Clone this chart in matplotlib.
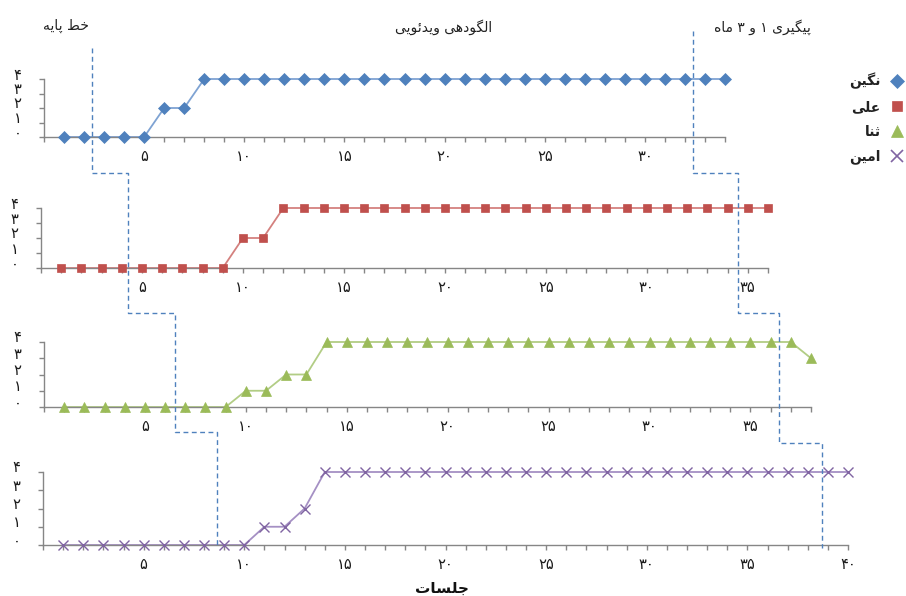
import matplotlib
matplotlib.use("Agg")
import matplotlib.pyplot as plt
from matplotlib.lines import Line2D
from matplotlib.transforms import ScaledTranslation

plt.rcParams['font.family'] = ['DejaVu Sans']

# ---------------- data ----------------
names = ["نگین", "علی", "ثنا", "امین"]
negin = [0, 0, 0, 0, 0, 2, 2, 4, 4, 4, 4, 4, 4, 4, 4, 4, 4, 4, 4, 4,
         4, 4, 4, 4, 4, 4, 4, 4, 4, 4, 4, 4, 4, 4]
ali = [0, 0, 0, 0, 0, 0, 0, 0, 0, 2, 2, 4, 4, 4, 4, 4, 4, 4, 4, 4,
       4, 4, 4, 4, 4, 4, 4, 4, 4, 4, 4, 4, 4, 4, 4, 4]
sana = [0, 0, 0, 0, 0, 0, 0, 0, 0, 1, 1, 2, 2, 4, 4, 4, 4, 4, 4, 4,
        4, 4, 4, 4, 4, 4, 4, 4, 4, 4, 4, 4, 4, 4, 4, 4, 4, 3]
amin = [0, 0, 0, 0, 0, 0, 0, 0, 0, 0, 1, 1, 2, 4, 4, 4, 4, 4, 4, 4,
        4, 4, 4, 4, 4, 4, 4, 4, 4, 4, 4, 4, 4, 4, 4, 4, 4, 4, 4, 4]
series = [negin, ali, sana, amin]
y_ticks = [0, 1, 2, 3, 4]
phase_titles = ["خط پایه", "الگودهی ویدئویی", "پیگیری ۱ و ۳ ماه"]
x_title = "جلسات"
# phase-change positions (in sessions) for each panel
phase1_x = [2.40, 4.31, 6.49, 8.65]
phase2_x = [32.4, 34.52, 36.42, 38.71]

# ---------------- simple Persian shaping ----------------
FORMS = {
    'ا': ('\uFE8D', '\uFE8E'),
    'ب': ('\uFE8F', '\uFE90', '\uFE91', '\uFE92'),
    'پ': ('\uFB56', '\uFB57', '\uFB58', '\uFB59'),
    'ت': ('\uFE95', '\uFE96', '\uFE97', '\uFE98'),
    'ث': ('\uFE99', '\uFE9A', '\uFE9B', '\uFE9C'),
    'ج': ('\uFE9D', '\uFE9E', '\uFE9F', '\uFEA0'),
    'خ': ('\uFEA5', '\uFEA6', '\uFEA7', '\uFEA8'),
    'د': ('\uFEA9', '\uFEAA'),
    'ر': ('\uFEAD', '\uFEAE'),
    'س': ('\uFEB1', '\uFEB2', '\uFEB3', '\uFEB4'),
    'ط': ('\uFEC1', '\uFEC2', '\uFEC3', '\uFEC4'),
    'ع': ('\uFEC9', '\uFECA', '\uFECB', '\uFECC'),
    'گ': ('\uFB92', '\uFB93', '\uFB94', '\uFB95'),
    'ل': ('\uFEDD', '\uFEDE', '\uFEDF', '\uFEE0'),
    'م': ('\uFEE1', '\uFEE2', '\uFEE3', '\uFEE4'),
    'ن': ('\uFEE5', '\uFEE6', '\uFEE7', '\uFEE8'),
    'ه': ('\uFEE9', '\uFEEA', '\uFEEB', '\uFEEC'),
    'و': ('\uFEED', '\uFEEE'),
    'ئ': ('\uFE89', '\uFE8A', '\uFE8B', '\uFE8C'),
    'ی': ('\uFBFC', '\uFBFD', '\uFBFE', '\uFBFF'),
}


def shape(text):
    chars = list(text)
    out = []
    for i, c in enumerate(chars):
        if c not in FORMS:
            out.append(c)
            continue
        f = FORMS[c]
        prev = chars[i - 1] if i > 0 else None
        nxt = chars[i + 1] if i + 1 < len(chars) else None
        jp = prev in FORMS and len(FORMS[prev]) == 4
        jn = len(f) == 4 and nxt in FORMS
        if jp and jn:
            g = f[3]
        elif jp:
            g = f[1]
        elif jn:
            g = f[2]
        else:
            g = f[0]
        out.append(g)
    return ''.join(reversed(out))


PD = '۰۱۲۳۴۵۶۷۸۹'


def fa(n):
    return ''.join(PD[int(d)] for d in str(n))


# ---------------- style ----------------
mk_colors = ['#4F81BD', '#C0504D', '#9BBB59', '#8064A2']
ln_colors = ['#7FA3D3', '#D4817F', '#B2CD85', '#A590C4']
markers = ['D', 's', '^', 'x']
msizes = [6.0, 6.3, 7.0, 7.5]
axis_col = '#868686'
dash_col = '#4F81BD'

fig = plt.figure(figsize=(9.06, 5.96), dpi=100)
W, H = 906.0, 596.0
# axes boxes in pixels: left, top, right, bottom
boxes = [(44, 79, 725, 137), (41, 208, 768, 268), (44, 342, 811, 407), (43, 472, 848, 545)]

axes = []
for k, (vals, box) in enumerate(zip(series, boxes)):
    l, t, r, b = box
    ax = fig.add_axes([l / W, 1 - b / H, (r - l) / W, (b - t) / H])
    n = len(vals)
    xs = list(range(1, n + 1))
    ax.plot(xs, vals, color=ln_colors[k], lw=1.3, zorder=2, clip_on=False)
    ax.plot(xs, vals, linestyle='none', marker=markers[k], ms=msizes[k],
            color=mk_colors[k], mec=mk_colors[k], mew=1.0 if markers[k] == 'x' else 0.5,
            zorder=3, clip_on=False)
    ax.set_xlim(0, n)
    ax.set_ylim(0, 4)
    for s in ['top', 'right']:
        ax.spines[s].set_visible(False)
    for s in ['left', 'bottom']:
        ax.spines[s].set_color(axis_col)
        ax.spines[s].set_linewidth(1.0)
    ax.set_xticks(range(0, n + 1))
    ax.set_xticklabels([fa(i) if (i % 5 == 0 and i > 0) else '' for i in range(0, n + 1)])
    ax.set_yticks(y_ticks)
    ax.set_yticklabels([fa(v) for v in y_ticks])
    ax.tick_params(axis='x', direction='out', length=3.6, color=axis_col, width=1,
                   labelsize=10.5, pad=5, labelcolor='#1a1a1a')
    ax.tick_params(axis='y', direction='out', length=3.6, color=axis_col, width=1,
                   labelsize=10.5, pad=12.5, labelcolor='#1a1a1a')
    off = ScaledTranslation(0, 0.055, fig.dpi_scale_trans)
    for lab in ax.get_yticklabels():
        lab.set_transform(lab.get_transform() + off)
    ax.patch.set_alpha(0)
    axes.append(ax)


# ---------------- phase-change lines ----------------
def fig_x(ax, x):
    p = ax.transData.transform((x, 0))
    return fig.transFigure.inverted().transform(p)[0]


def stepped(xpos, top_px, conn_px, bottom_px):
    xs, ys = [], []
    fx = [fig_x(ax, x) for ax, x in zip(axes, xpos)]
    xs.append(fx[0]); ys.append(1 - top_px / H)
    for i in range(3):
        xs.append(fx[i]); ys.append(1 - conn_px[i] / H)
        xs.append(fx[i + 1]); ys.append(1 - conn_px[i] / H)
    xs.append(fx[3]); ys.append(1 - bottom_px / H)
    fig.add_artist(Line2D(xs, ys, transform=fig.transFigure, color=dash_col,
                          lw=1.0, linestyle=(0, (3.5, 2.5)), zorder=1))


stepped(phase1_x, 48, [173, 313, 432], 548)
stepped(phase2_x, 31, [173, 313, 443], 548)

# ---------------- titles ----------------
fig.text(66 / W, 1 - 26 / H, shape(phase_titles[0]), ha='center', va='center', fontsize=10, color='#222222')
fig.text(444 / W, 1 - 27 / H, shape(phase_titles[1]), ha='center', va='center', fontsize=10, color='#222222')
fig.text(762 / W, 1 - 27 / H, shape(phase_titles[2]), ha='center', va='center', fontsize=10, color='#222222')
fig.text(442 / W, 1 - 588 / H, shape(x_title), ha='center', va='center', fontsize=11,
         fontweight='bold', color='#111111')

# ---------------- legend ----------------
handles = [Line2D([], [], linestyle='none', marker=markers[k], ms=msizes[k] + 1,
                  color=mk_colors[k], mew=1.2 if markers[k] == 'x' else 0.5)
           for k in range(4)]
leg = fig.legend(handles, [shape(n) for n in names], markerfirst=False,
                 loc='upper right', bbox_to_anchor=(914 / W, 1 - 63 / H),
                 frameon=False, fontsize=10, labelspacing=0.78, handlelength=1.0,
                 handletextpad=0.7, borderpad=0.2)
for t in leg.get_texts():
    t.set_fontweight('bold')
    t.set_color('#222222')

fig.savefig('out.png', dpi=100)
